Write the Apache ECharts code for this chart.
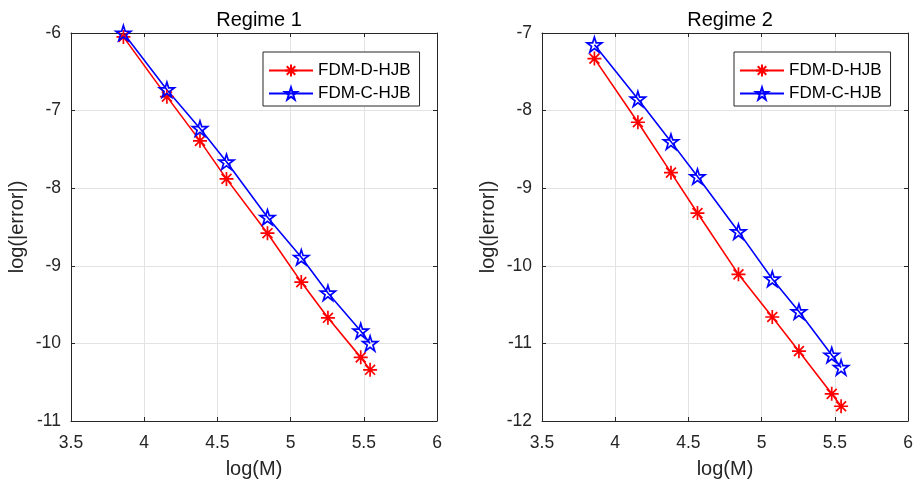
<!DOCTYPE html>
<html>
<head>
<meta charset="utf-8">
<script src="https://cdn.jsdelivr.net/npm/echarts@6/dist/echarts.min.js"></script>
<style>html,body{margin:0;padding:0;background:#fff}#c{width:916px;height:486px}</style>
</head>
<body>
<div id="c"></div>
<script>
// ---- data ----
const logM = [3.858, 4.155, 4.381, 4.562, 4.842, 5.073, 5.255, 5.479, 5.543];
const r1D = [-6.05, -6.82, -7.39, -7.88, -8.58, -9.21, -9.67, -10.18, -10.34];
const r1C = [-6.00, -6.73, -7.23, -7.66, -8.375, -8.89, -9.35, -9.84, -10.00];
const r2D = [-7.33, -8.15, -8.80, -9.32, -10.11, -10.66, -11.10, -11.65, -11.81];
const r2C = [-7.15, -7.85, -8.40, -8.85, -9.56, -10.17, -10.59, -11.15, -11.31];
const titles = ['Regime 1', 'Regime 2'];
const seriesNames = ['FDM-D-HJB', 'FDM-C-HJB'];
const xTicks = {min: 3.5, max: 6, step: 0.5};
const yRanges = [[-11, -6], [-12, -7]];

// ---- styles ----
const FONT = '"Liberation Sans", Arial, Helvetica, sans-serif';
const AX = '#262626';
const GRIDC = '#e3e3e3';
function starPath() {
  let d = '';
  for (let i = 0; i < 10; i++) {
    const r = i % 2 === 0 ? 10 : 3.82;
    const a = -Math.PI / 2 + i * Math.PI / 5;
    d += (i === 0 ? 'M' : 'L') + (10 + r * Math.cos(a)).toFixed(3) + ',' + (10 + r * Math.sin(a)).toFixed(3);
  }
  return 'path://' + d + 'Z';
}
const ASTER = 'path://M0,5L10,5M5,0L5,10M1.46,1.46L8.54,8.54M1.46,8.54L8.54,1.46';
const STAR = starPath();

const grids = [
  {left: 71, top: 33, width: 366, height: 388},
  {left: 542, top: 33, width: 366, height: 388}
];

const xAxes = [], yAxes = [], series = [], titleArr = [], legends = [];
const dataSets = [[r1D, r1C], [r2D, r2C]];
grids.forEach((g, gi) => {
  xAxes.push({
    type: 'value', gridIndex: gi, min: xTicks.min, max: xTicks.max, interval: xTicks.step,
    name: 'log(M)', nameLocation: 'middle', nameGap: 38,
    nameTextStyle: {fontFamily: FONT, fontSize: 20, color: AX},
    axisLine: {show: true, onZero: false, lineStyle: {color: AX, width: 1}},
    axisTick: {show: true, inside: true, length: 4, lineStyle: {color: AX}},
    axisLabel: {fontFamily: FONT, fontSize: 17.5, color: AX, margin: 13,
      formatter: v => String(+v.toFixed(1))},
    splitLine: {show: true, lineStyle: {color: GRIDC, width: 1}}
  });
  xAxes.push({
    type: 'value', gridIndex: gi, position: 'top', min: xTicks.min, max: xTicks.max, interval: xTicks.step,
    axisLine: {show: true, onZero: false, lineStyle: {color: AX, width: 1}},
    axisTick: {show: true, inside: true, length: 4, lineStyle: {color: AX}},
    axisLabel: {show: false}, splitLine: {show: false}
  });
  yAxes.push({
    type: 'value', gridIndex: gi, min: yRanges[gi][0], max: yRanges[gi][1], interval: 1,
    name: 'log(|error|)', nameLocation: 'middle', nameGap: 44, nameRotate: 90,
    nameTextStyle: {fontFamily: FONT, fontSize: 20, color: AX},
    axisLine: {show: true, onZero: false, lineStyle: {color: AX, width: 1}},
    axisTick: {show: true, inside: true, length: 4, lineStyle: {color: AX}},
    axisLabel: {fontFamily: FONT, fontSize: 17.5, color: AX, margin: 10},
    splitLine: {show: true, lineStyle: {color: GRIDC, width: 1}}
  });
  yAxes.push({
    type: 'value', gridIndex: gi, position: 'right', min: yRanges[gi][0], max: yRanges[gi][1], interval: 1,
    axisLine: {show: true, onZero: false, lineStyle: {color: AX, width: 1}},
    axisTick: {show: true, inside: true, length: 4, lineStyle: {color: AX}},
    axisLabel: {show: false}, splitLine: {show: false}
  });
  titleArr.push({
    text: titles[gi], left: g.left + g.width / 2, top: 5, textAlign: 'center',
    textStyle: {fontFamily: FONT, fontSize: 20, fontWeight: 'normal', color: '#000'}
  });
  const [dVals, cVals] = dataSets[gi];
  series.push({
    name: seriesNames[0], type: 'line', xAxisIndex: gi * 2, yAxisIndex: gi * 2,
    data: logM.map((x, i) => [x, dVals[i]]),
    symbol: ASTER, symbolSize: 14, showAllSymbol: true,
    lineStyle: {color: '#ff0000', width: 1.6},
    itemStyle: {color: '#ff0000', borderColor: '#ff0000', borderWidth: 1.7},
    z: 3
  });
  series.push({
    name: seriesNames[1], type: 'line', xAxisIndex: gi * 2, yAxisIndex: gi * 2,
    data: logM.map((x, i) => [x, cVals[i]]),
    symbol: STAR, symbolSize: 15, showAllSymbol: true,
    lineStyle: {color: '#0000ff', width: 1.6},
    itemStyle: {color: 'rgba(255,255,255,0)', borderColor: '#0000ff', borderWidth: 1.7},
    z: 3
  });
  legends.push({
    data: seriesNames, orient: 'vertical',
    left: g.left + g.width - 174, top: 52,
    itemWidth: 44, itemHeight: 15, itemGap: 6,
    padding: [10, 9, 4, 5],
    borderColor: AX, borderWidth: 1, backgroundColor: '#fff',
    textStyle: {fontFamily: FONT, fontSize: 17, color: '#000'},
    selectedMode: false
  });
});

const chart = echarts.init(document.getElementById('c'), null, {renderer: 'canvas'});
chart.setOption({
  animation: false,
  backgroundColor: '#fff',
  title: titleArr,
  grid: grids,
  xAxis: xAxes,
  yAxis: yAxes,
  legend: legends,
  series: series
});
</script>
</body>
</html>
